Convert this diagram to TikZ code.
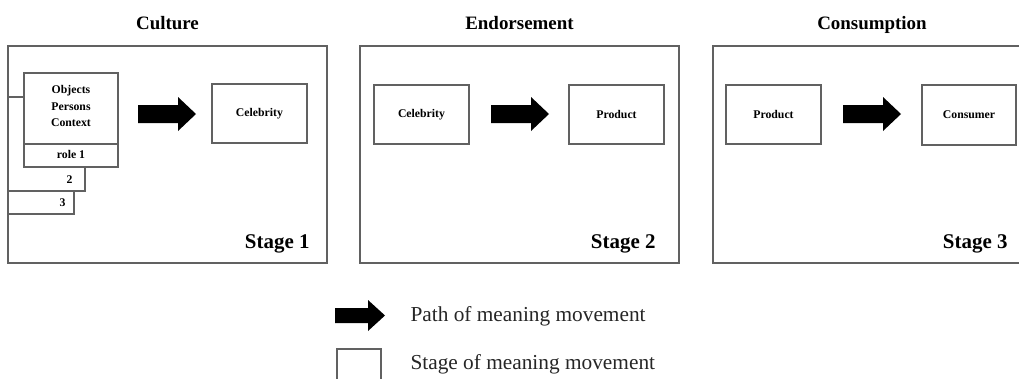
\documentclass[tikz,border=0pt]{standalone}
\usepackage{fontspec}
\setmainfont{Liberation Serif}
\begin{document}
\begin{tikzpicture}[x=1bp,y=-1bp,
  frame/.style={draw=black!62,line width=1.1bp,fill=white},
  box/.style={frame,rectangle,inner sep=0pt},
  small/.style={font=\fontsize{11.8}{17}\selectfont\bfseries,align=center},
  title/.style={font=\fontsize{19}{22}\selectfont\bfseries,anchor=base},
  stagelabel/.style={font=\fontsize{21}{24}\selectfont\bfseries,anchor=base east},
  legend/.style={font=\fontsize{21.4}{24}\selectfont,anchor=base west,text=black!85},
  fatarrow/.pic={\fill[black] (0,-9) -- (40,-9) -- (40,-17) -- (58,0)
                   -- (40,17) -- (40,9) -- (0,9) -- cycle;}]
\useasboundingbox (0,0) rectangle (1019,378);
\begin{scope}
\clip (0,0) rectangle (1019,378);

% three stage frames
\draw[frame] (8,46) rectangle (327,263);
\draw[frame] (360,46) rectangle (679,263);
\draw[frame] (713,46) rectangle (1032,263);

% titles
\node[title] (tculture) at (167.5,29.5) {Culture};
\node[title] (tendorse) at (519.5,29.5) {Endorsement};
\node[title] (tconsume) at (872,29.5) {Consumption};

% stage numbers
\node[stagelabel] (s1) at (313,248) {Stage 1};
\node[stagelabel] (s2) at (659,248) {Stage 2};
\node[stagelabel] (s3) at (1011,248) {Stage 3};

% stack of roles in stage 1
\draw[frame] (8,120) rectangle (74,214);
\draw[frame] (8,97) rectangle (85,191);
\draw[frame] (24,73) rectangle (118,167);
\draw[draw=black!62,line width=1.1bp] (24,144) -- (118,144);
\node[small] (opc) at (71,106) {Objects\\Persons\\Context};
\node[small] (role1) at (71,154.5) {role 1};
\node[small,anchor=east] (role2) at (76,180) {2};
\node[small,anchor=east] (role3) at (69,202.5) {3};

% stage 1
\node[box,small,minimum width=95bp,minimum height=59bp] (celeb1) at (259.5,113.5) {Celebrity};
\pic at (138,114) {fatarrow};

% stage 2
\node[box,small,minimum width=95bp,minimum height=59bp] (celeb2) at (421.5,114.5) {Celebrity};
\node[box,small,minimum width=95bp,minimum height=59bp] (prod2) at (616.5,114.5) {Product};
\pic at (491,114) {fatarrow};

% stage 3
\node[box,small,minimum width=95bp,minimum height=59bp] (prod3) at (773.5,114.5) {Product};
\node[box,small,minimum width=94bp,minimum height=60bp] (cons3) at (969,115) {Consumer};
\pic at (843,114) {fatarrow};

% legend
\begin{scope}[shift={(335,315.5)}]
\fill[black] (0,-7.5) -- (33,-7.5) -- (33,-15.5) -- (50,0)
  -- (33,15.5) -- (33,7.5) -- (0,7.5) -- cycle;
\end{scope}
\draw[frame] (337,349) rectangle (381,390);
\node[legend] (lpath) at (407,321) {Path of meaning movement};
\node[legend] (lstage) at (407,369) {Stage of meaning movement};
\end{scope}
\end{tikzpicture}
\end{document}
